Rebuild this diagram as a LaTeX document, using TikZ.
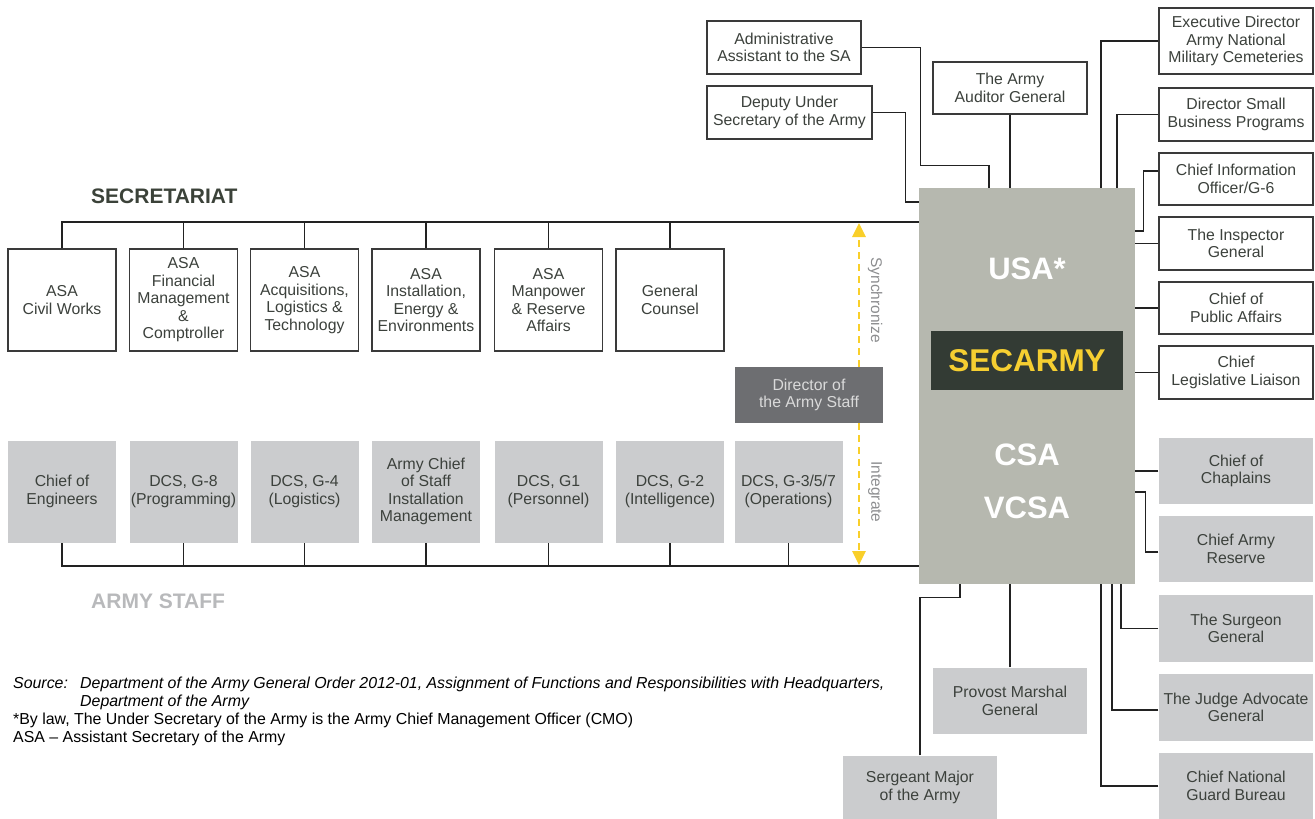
\documentclass[tikz,border=0pt]{standalone}
\usepackage{fontspec}
\setmainfont{Liberation Sans}
\usetikzlibrary{arrows.meta}

\definecolor{coregray}{HTML}{B6B8AF}
\definecolor{secdark}{HTML}{333B34}
\definecolor{secyellow}{HTML}{F6CF31}
\definecolor{staffgray}{HTML}{CBCCCE}
\definecolor{dirgray}{HTML}{6D6E71}
\definecolor{dirtext}{HTML}{DADADA}
\definecolor{txtdark}{HTML}{3C413C}
\definecolor{boxline}{HTML}{3A3A3A}
\definecolor{lineblack}{HTML}{222222}
\definecolor{arrowyellow}{HTML}{F9CF2A}
\definecolor{labelgray}{HTML}{8C8D8F}
\definecolor{stafflabel}{HTML}{B8B9BB}
\definecolor{sectitle}{HTML}{3B4239}

\begin{document}
\begin{tikzpicture}[x=1pt,y=-1pt,
    conn/.style={draw=lineblack, line width=1.2pt},
    secbox/.style={draw=boxline, line width=1.3pt, fill=white, text=txtdark, align=center,
        inner sep=0pt, minimum width=108pt, minimum height=102pt,
        font=\fontsize{15.8}{17.5}\selectfont},
    staffbox/.style={secbox, draw=none, fill=staffgray},
    sidebox/.style={secbox, minimum width=154pt, minimum height=53pt},
    sidegray/.style={sidebox, draw=none, fill=staffgray, minimum height=66pt},
    biglabel/.style={text=white, font=\bfseries\fontsize{31}{31}\selectfont},
    yelarrow/.style={draw=arrowyellow, line width=2.8pt, dash pattern=on 7pt off 5pt,
        -{Triangle[width=13pt,length=14pt,fill=arrowyellow]}},
    sidelabel/.style={text=labelgray, rotate=-90, font=\fontsize{15.5}{17}\selectfont},
    grouptitle/.style={anchor=west, inner sep=0pt, font=\bfseries\fontsize{21}{21}\selectfont},
    note/.style={anchor=base west, inner sep=0pt, text=black, font=\fontsize{15.9}{18}\selectfont}
]
    \useasboundingbox (0,0) rectangle (1315,819);

    % Central block
    \node[fill=coregray, minimum width=216pt, minimum height=396pt, inner sep=0pt] (core) at (1027,386) {};
    \node[biglabel] (usa) at (1027,269) {USA*};
    \node[fill=secdark, text=secyellow, minimum width=192pt, minimum height=59pt, inner sep=0pt,
        font=\bfseries\fontsize{31.5}{31.5}\selectfont] (secarmy) at (1027,360.5) {SECARMY};
    \node[biglabel] (csa) at (1027,455) {CSA};
    \node[biglabel] (vcsa) at (1027,508) {VCSA};

    % Secretariat
    \node[grouptitle, text=sectitle] (sectitle) at (91,196) {SECRETARIAT};
    \coordinate (secbar) at (919,222);
    \node[secbox] (civil) at (62,300) {ASA\\Civil Works};
    \node[secbox] (finance) at (183.5,300) {ASA\\Financial\\Management\\\&\\Comptroller};
    \node[secbox] (acquis) at (304.5,300) {ASA\\Acquisitions,\\Logistics \&\\Technology};
    \node[secbox] (install) at (426,300) {ASA\\Installation,\\Energy \&\\Environments};
    \node[secbox] (manpower) at (548.5,300) {ASA\\Manpower\\\& Reserve\\Affairs};
    \node[secbox] (counsel) at (670,300) {General\\Counsel};
    \draw[conn] (civil.north) |- (secbar);
    \draw[conn] (finance.north) -- (finance.north |- secbar);
    \draw[conn] (acquis.north) -- (acquis.north |- secbar);
    \draw[conn] (install.north) -- (install.north |- secbar);
    \draw[conn] (manpower.north) -- (manpower.north |- secbar);
    \draw[conn] (counsel.north) -- (counsel.north |- secbar);

    % Army staff
    \node[grouptitle, text=stafflabel] (stafftitle) at (91,601) {ARMY STAFF};
    \coordinate (staffbar) at (919,566);
    \node[staffbox] (engineers) at (62,491.5) {Chief of\\Engineers};
    \node[staffbox] (gEight) at (183.5,491.5) {DCS, G-8\\(Programming)};
    \node[staffbox] (gFour) at (304.5,491.5) {DCS, G-4\\(Logistics)};
    \node[staffbox] (acsim) at (426,491.5) {Army Chief\\of Staff\\Installation\\Management};
    \node[staffbox] (gOne) at (548.5,491.5) {DCS, G1\\(Personnel)};
    \node[staffbox] (gTwo) at (670,491.5) {DCS, G-2\\(Intelligence)};
    \node[staffbox] (gThree) at (788.5,491.5) {DCS, G-3/5/7\\(Operations)};
    \draw[conn] (engineers.south) |- (staffbar);
    \draw[conn] (gEight.south) -- (gEight.south |- staffbar);
    \draw[conn] (gFour.south) -- (gFour.south |- staffbar);
    \draw[conn] (acsim.south) -- (acsim.south |- staffbar);
    \draw[conn] (gOne.south) -- (gOne.south |- staffbar);
    \draw[conn] (gTwo.south) -- (gTwo.south |- staffbar);
    \draw[conn] (gThree.south) -- (gThree.south |- staffbar);

    % Director of the Army Staff and the two arrows
    \node[fill=dirgray, text=dirtext, align=center, inner sep=0pt, minimum width=148pt, minimum height=56pt,
        font=\fontsize{15.8}{17.5}\selectfont] (director) at (809,395) {Director of\\the Army Staff};
    \coordinate (synctip) at (859,223);
    \coordinate (integtip) at (859,565);
    \draw[yelarrow] ([xshift=50pt]director.north) -- (synctip);
    \draw[yelarrow] ([xshift=50pt]director.south) -- (integtip);
    \node[sidelabel] (sync) at (875,300) {Synchronize};
    \node[sidelabel] (integ) at (875,492) {Integrate};

    % Boxes above the central block
    \node[sidebox] (adminasst) at (784,47.5) {Administrative\\Assistant to the SA};
    \node[sidebox, minimum width=165pt] (depunder) at (789.5,112.5) {Deputy Under\\Secretary of the Army};
    \node[sidebox, minimum height=52pt] (auditor) at (1010,88) {The Army\\Auditor General};
    \draw[conn] (adminasst.east) -- ++(59,0) -- ++(0,118) -| ([xshift=-38pt]core.north);
    \draw[conn] (depunder.east) -- ++(33,0) |- ([yshift=184pt]core.west);
    \draw[conn] (auditor.south) -- (auditor.south |- core.north);

    % Right column, secretariat side
    \node[sidebox, minimum height=66pt] (execdir) at (1236,41) {Executive Director\\Army National\\Military Cemeteries};
    \node[sidebox] (smallbiz) at (1236,114.5) {Director Small\\Business Programs};
    \node[sidebox, minimum height=52pt] (cio) at (1236,179) {Chief Information\\Officer/G-6};
    \node[sidebox] (inspector) at (1236,243.5) {The Inspector\\General};
    \node[sidebox, minimum height=52pt] (publicaff) at (1236,308) {Chief of\\Public Affairs};
    \node[sidebox] (legis) at (1236,372.5) {Chief\\Legislative Liaison};
    \draw[conn] (execdir.west) -| ([xshift=74pt]core.north);
    \draw[conn] (smallbiz.west) -| ([xshift=90pt]core.north);
    \draw[conn] ([yshift=8pt]cio.west) -- ++(-15,0) |- ([yshift=155pt]core.east);
    \draw[conn] (inspector.west) -- (inspector.west -| core.east);
    \draw[conn] (publicaff.west) -- (publicaff.west -| core.east);
    \draw[conn] (legis.west) -- (legis.west -| core.east);

    % Right column, army side
    \node[sidegray] (chaplains) at (1236,471) {Chief of\\Chaplains};
    \node[sidegray] (reserve) at (1236,549) {Chief Army\\Reserve};
    \node[sidegray, minimum height=67pt] (surgeon) at (1236,628.5) {The Surgeon\\General};
    \node[sidegray, minimum height=67pt] (jag) at (1236,707.5) {The Judge Advocate\\General};
    \node[sidegray] (ngb) at (1236,786) {Chief National\\Guard Bureau};
    \draw[conn] (chaplains.west) -- (chaplains.west -| core.east);
    \draw[conn] ([yshift=-3pt]reserve.west) -- ++(-13,0) |- ([yshift=-106pt]core.east);
    \draw[conn] (surgeon.west) -| ([xshift=94pt]core.south);
    \draw[conn] ([yshift=-2.5pt]jag.west) -| ([xshift=85pt]core.south);
    \draw[conn] (ngb.west) -| ([xshift=74pt]core.south);

    % Boxes below the central block
    \node[sidegray] (provost) at (1010,701) {Provost Marshal\\General};
    \node[sidegray, minimum height=63pt] (sgtmajor) at (920,787.5) {Sergeant Major\\of the Army};
    \draw[conn] (provost.north) -- (provost.north |- core.south);
    \draw[conn] (sgtmajor.north) -- ++(0,-158) -| ([xshift=-67pt]core.south);

    % Notes
    \node[note] (srclabel) at (13,688) {\itshape Source:};
    \node[note] (srclineA) at (80,688) {\itshape Department of the Army General Order 2012-01, Assignment of Functions and Responsibilities with Headquarters,};
    \node[note] (srclineB) at (80,706) {\itshape Department of the Army};
    \node[note] (lawnote) at (13,724) {*By law, The Under Secretary of the Army is the Army Chief Management Officer (CMO)};
    \node[note] (asanote) at (13,742) {ASA – Assistant Secretary of the Army};
\end{tikzpicture}
\end{document}
